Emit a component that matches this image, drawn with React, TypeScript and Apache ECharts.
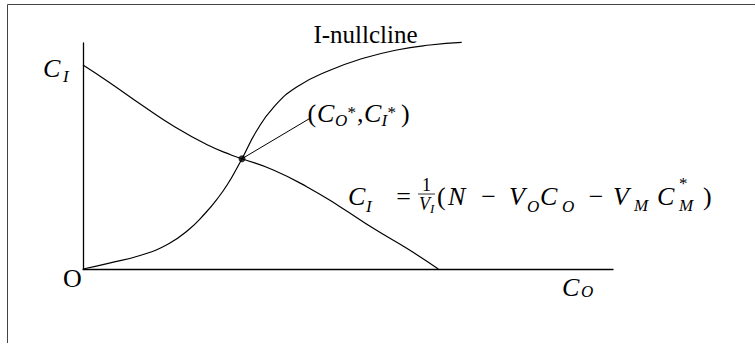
import React, { useEffect, useRef } from "react";
import * as echarts from "echarts";

// I-nullcline (sigmoid): [C_O, C_I]
const nullclineI: number[][] = [
  [0, 0], [0.477, 0.252], [1.108, 0.619], [1.609, 1.106], [1.987, 1.726],
  [2.302, 2.456], [2.553, 3.164], [2.742, 3.805], [2.9, 4.447], [3.0, 4.88],
  [3.277, 6.115], [3.591, 7.142], [4.032, 8.053], [4.66, 8.792], [5.289, 9.323],
  [5.919, 9.69], [6.547, 9.912], [7.145, 10.031],
];
// Conservation curve C_I = (N - V_O C_O - V_M C_M*)/V_I
const conservation: number[][] = [
  [0, 9.027], [0.477, 8.288], [1.108, 7.257], [1.736, 6.283], [2.364, 5.473],
  [2.806, 5.035], [3.0, 4.88], [3.591, 4.381], [4.221, 3.642], [4.849, 2.757],
  [5.477, 1.801], [6.108, 0.916], [6.704, 0],
];
const equilibrium: number[] = [3.0, 4.88];
const leaderEnd: number[] = [4.283, 6.668];
const xRange: number[] = [0, 10];
const yRange: number[] = [0, 10];

const SERIF = "Liberation Serif";
const MAIN = 26;
const SUB = 17;

function t(text: string, x: number, y: number, size: number, italic: boolean, align: string = "left") {
  return {
    type: "text",
    x,
    y,
    silent: true,
    style: {
      text,
      fontFamily: SERIF,
      fontSize: size,
      fontStyle: italic ? "italic" : "normal",
      fill: "#000",
      textAlign: align,
      textVerticalAlign: "middle",
    },
  };
}

// superscript star stacked over an italic subscript
function stack(x: number, supCenter: number, sub: string, subCenter: number) {
  const L1 = 10;
  const y0 = supCenter + 2.2 - L1 / 2;
  const L2 = Math.max(2, 2 * (subCenter - y0 - L1));
  return {
    type: "text",
    x,
    y: y0,
    silent: true,
    style: {
      text: `{s|*}\n{b|${sub}}`,
      textAlign: "left",
      textVerticalAlign: "top",
      rich: {
        s: { fontFamily: SERIF, fontSize: SUB, lineHeight: L1, fill: "#000" },
        b: { fontFamily: SERIF, fontSize: SUB, fontStyle: "italic", lineHeight: L2, fill: "#000" },
      },
    },
  };
}

export default function App() {
  const ref = useRef<HTMLDivElement>(null);
  useEffect(() => {
    if (!ref.current) return;
    const chart = echarts.init(ref.current, null, { renderer: "svg" });
    const curveStyle = { color: "#000", width: 1.2 };
    const mainY = 196.2;
    const subY = 206.9;
    const labY = 113.2;
    const labSubY = 120.9;
    const starY = 112.5;
    chart.setOption({
      animation: false,
      backgroundColor: "#fff",
      grid: { left: 83, top: 43, width: 530, height: 226, outerBoundsMode: "none" },
      xAxis: {
        type: "value",
        min: xRange[0],
        max: xRange[1],
        axisLine: { show: true, onZero: false, lineStyle: { color: "#000", width: 1.3 } },
        axisTick: { show: false },
        axisLabel: { show: false },
        splitLine: { show: false },
      },
      yAxis: {
        type: "value",
        min: yRange[0],
        max: yRange[1],
        axisLine: { show: true, onZero: false, lineStyle: { color: "#000", width: 1.3 } },
        axisTick: { show: false },
        axisLabel: { show: false },
        splitLine: { show: false },
      },
      series: [
        {
          type: "line",
          data: conservation,
          smooth: 0.5,
          showSymbol: false,
          clip: false,
          lineStyle: curveStyle,
        },
        {
          type: "line",
          data: nullclineI,
          smooth: 0.5,
          showSymbol: false,
          clip: false,
          lineStyle: curveStyle,
        },
        {
          type: "line",
          data: [equilibrium, leaderEnd],
          showSymbol: false,
          clip: false,
          lineStyle: { color: "#000", width: 1 },
        },
        {
          type: "scatter",
          data: [equilibrium],
          symbolSize: 7,
          itemStyle: { color: "#000" },
          z: 5,
        },
      ],
      graphic: [
        {
          type: "rect",
          shape: { x: 7.5, y: 4.5, width: 900, height: 500 },
          style: { fill: "none", stroke: "#444", lineWidth: 1 },
          silent: true,
        },
        // y-axis label C_I
        t("C", 43, 68.2, MAIN, true),
        t("I", 63, 76.9, SUB, true),
        // origin
        t("O", 72.5, 278.2, MAIN, false, "center"),
        // x-axis label C_O
        t("C", 562, 287.7, MAIN, true),
        t("O", 581, 291.4, SUB, true),
        // I-nullcline
        t("I-nullcline", 365.5, 34.9, 25, false, "center"),
        // (C_O*, C_I*)
        t("(", 307.5, labY, MAIN, false),
        t("C", 317, labY, MAIN, true),
        t("O", 335, labSubY, SUB, true),
        t("*", 347.5, starY, SUB, false),
        t(",", 357, labY, MAIN, false),
        t("C", 364, labY, MAIN, true),
        t("I", 381.5, labSubY, SUB, true),
        t("*", 387.5, starY, SUB, false),
        t(")", 401, labY, MAIN, false),
        // formula
        t("C", 348, mainY, MAIN, true),
        t("I", 366, subY, SUB, true),
        t("=", 403.5, mainY, MAIN, false, "center"),
        t("1", 426.5, 184.9, 18, false, "center"),
        {
          type: "line",
          shape: { x1: 418, y1: 194, x2: 435, y2: 194 },
          style: { stroke: "#000", lineWidth: 0.8 },
          silent: true,
        },
        t("V", 419, 203.9, 18, true),
        t("I", 430, 208.6, 13, true),
        t("(", 437, mainY, MAIN, false),
        t("N", 448, mainY, MAIN, true),
        t("\u2212", 488.5, mainY, MAIN, false, "center"),
        t("V", 509, mainY, MAIN, true),
        t("O", 527, subY, SUB, true),
        t("C", 540, mainY, MAIN, true),
        t("O", 562, subY, SUB, true),
        t("\u2212", 596, mainY, MAIN, false, "center"),
        t("V", 613, mainY, MAIN, true),
        t("M", 634, 205.9, SUB, true),
        t("C", 657, mainY, MAIN, true),
        stack(679, 181, "M", 205.9),
        t(")", 703, mainY, MAIN, false),
      ],
    });
    return () => chart.dispose();
  }, []);
  return (
    <div
      ref={ref}
      style={{ position: "absolute", left: 0, top: 0, width: 755, height: 343 }}
    />
  );
}
